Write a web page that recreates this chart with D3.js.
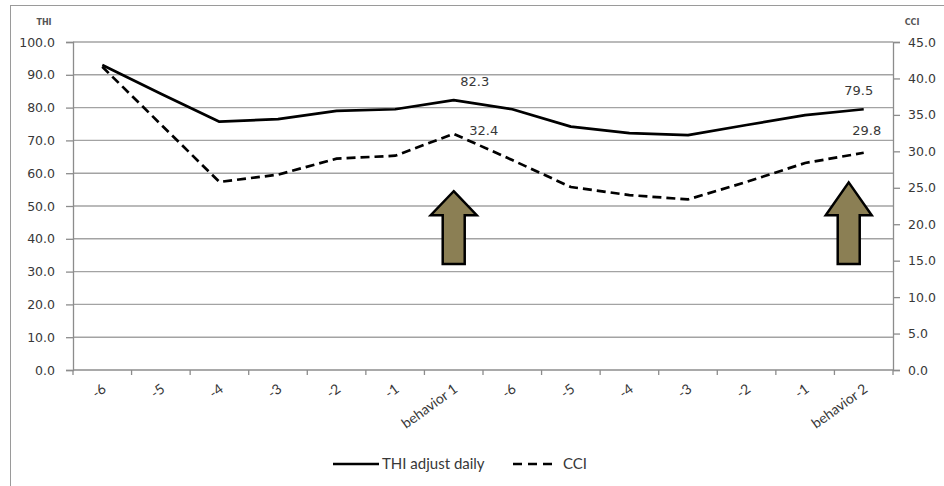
<!DOCTYPE html>
<html>
<head>
<meta charset="utf-8">
<script src="https://cdn.jsdelivr.net/npm/d3@7"></script>
<style>
  html, body { margin: 0; padding: 0; background: #fff; }
  svg { display: block; }
</style>
</head>
<body>
<svg id="chart" width="944" height="486"></svg>
<script>
// Day labels around two behaviour events
const categories = ["-6", "-5", "-4", "-3", "-2", "-1", "behavior 1",
                    "-6", "-5", "-4", "-3", "-2", "-1", "behavior 2"];

// Temperature-humidity index, adjusted daily (left axis)
const thiValues = [93.0, 84.2, 75.7, 76.5, 79.0, 79.5, 82.3,
                   79.5, 74.2, 72.2, 71.6, 74.7, 77.7, 79.5];

// Comprehensive climate index (right axis)
const cciValues = [41.6, 33.7, 25.8, 26.8, 29.0, 29.4, 32.4,
                   28.8, 25.1, 24.0, 23.4, 25.8, 28.4, 29.8];

const thiTicks = [0, 10, 20, 30, 40, 50, 60, 70, 80, 90, 100];
const cciTicks = [0, 5, 10, 15, 20, 25, 30, 35, 40, 45];

// Points that carry a value label, with label offsets from the point
const thiLabels = [{ idx: 6, dx: 21, dy: -14 }, { idx: 13, dx: -5, dy: -14 }];
const cciLabels = [{ idx: 6, dx: 30, dy: 1 }, { idx: 13, dx: 3, dy: -18 }];

// Up arrows marking the behaviour days (tip/neck/base in THI units)
const arrows = [
  { idx: 6, shift: 0, tip: 54.5, neck: 47.2, base: 32.3 },
  { idx: 13, shift: -15, tip: 57.2, neck: 47.2, base: 32.3 }
];

const svg = d3.select("#chart");
const m = { left: 73, right: 893, top: 42, bottom: 370 };

const x = d3.scaleBand()
  .domain(d3.range(categories.length))
  .range([m.left, m.right])
  .paddingInner(0).paddingOuter(0);
const cx = i => x(i) + x.bandwidth() / 2;

const yL = d3.scaleLinear().domain([0, 100]).range([m.bottom, m.top]);
const yR = d3.scaleLinear().domain([0, 45]).range([m.bottom, m.top]);

const tickFont = "DejaVu Sans, sans-serif";
const textColor = "#383838";

// chart frame
svg.append("rect")
  .attr("x", 10.5).attr("y", 5.5)
  .attr("width", 960).attr("height", 500)
  .attr("fill", "none").attr("stroke", "#9a9a9a").attr("stroke-width", 1);

// horizontal gridlines
svg.append("g").selectAll("line").data(thiTicks.filter(d => d > 0)).join("line")
  .attr("x1", m.left).attr("x2", m.right)
  .attr("y1", d => yL(d)).attr("y2", d => yL(d))
  .attr("stroke", "#a3a3a3").attr("stroke-width", 1.4);

// left axis
const leftAxis = svg.append("g")
  .attr("transform", `translate(${m.left},0)`)
  .call(d3.axisLeft(yL).tickValues(thiTicks).tickFormat(d3.format(".1f")).tickSize(7).tickPadding(11));
// right axis
const rightAxis = svg.append("g")
  .attr("transform", `translate(${m.right},0)`)
  .call(d3.axisRight(yR).tickValues(cciTicks).tickFormat(d3.format(".1f")).tickSize(7).tickPadding(8));

[leftAxis, rightAxis].forEach(g => {
  g.select(".domain").attr("stroke", "#8c8c8c").attr("stroke-width", 1.3);
  g.selectAll(".tick line").attr("stroke", "#8c8c8c").attr("stroke-width", 1.3);
  g.selectAll(".tick text")
    .attr("font-family", tickFont).attr("font-size", 12.5)
    .attr("fill", textColor);
});

// bottom axis with ticks between categories
const bottom = svg.append("g");
bottom.append("line")
  .attr("x1", m.left).attr("x2", m.right)
  .attr("y1", m.bottom).attr("y2", m.bottom)
  .attr("stroke", "#8c8c8c").attr("stroke-width", 1.3);
bottom.selectAll("line.tk").data(d3.range(categories.length + 1)).join("line")
  .attr("class", "tk")
  .attr("x1", i => m.left + i * x.bandwidth()).attr("x2", i => m.left + i * x.bandwidth())
  .attr("y1", m.bottom).attr("y2", m.bottom + 5)
  .attr("stroke", "#8c8c8c").attr("stroke-width", 1.3);
bottom.selectAll("text").data(categories).join("text")
  .attr("transform", (d, i) => `translate(${cx(i) + 2},${m.bottom + 17}) rotate(-36)`)
  .attr("text-anchor", "end")
  .attr("dy", "0.35em")
  .attr("font-family", "Lato, sans-serif").attr("font-size", 14)
  .attr("fill", textColor)
  .text(d => d);

// axis titles
svg.append("text").attr("x", 44).attr("y", 25).attr("text-anchor", "middle")
  .attr("font-family", tickFont).attr("font-size", 8).attr("font-weight", "bold")
  .attr("fill", "#555").text("THI");
svg.append("text").attr("x", 912).attr("y", 25).attr("text-anchor", "middle")
  .attr("font-family", tickFont).attr("font-size", 8).attr("font-weight", "bold")
  .attr("fill", "#555").text("CCI");

// series lines
const thiLine = d3.line().x((d, i) => cx(i)).y(d => yL(d));
const cciLine = d3.line().x((d, i) => cx(i)).y(d => yR(d));

svg.append("path").datum(thiValues)
  .attr("d", thiLine)
  .attr("fill", "none").attr("stroke", "#000").attr("stroke-width", 2.7)
  .attr("stroke-linejoin", "round");
svg.append("path").datum(cciValues)
  .attr("d", cciLine)
  .attr("fill", "none").attr("stroke", "#000").attr("stroke-width", 2.7)
  .attr("stroke-dasharray", "9,5");

// value labels
const fmt = d3.format(".1f");
svg.append("g").selectAll("text").data(thiLabels).join("text")
  .attr("x", d => cx(d.idx) + d.dx)
  .attr("y", d => yL(thiValues[d.idx]) + d.dy)
  .attr("text-anchor", "middle")
  .attr("font-family", tickFont).attr("font-size", 13).attr("fill", textColor)
  .text(d => fmt(thiValues[d.idx]));
svg.append("g").selectAll("text").data(cciLabels).join("text")
  .attr("x", d => cx(d.idx) + d.dx)
  .attr("y", d => yR(cciValues[d.idx]) + d.dy)
  .attr("text-anchor", "middle")
  .attr("font-family", tickFont).attr("font-size", 13).attr("fill", textColor)
  .text(d => fmt(cciValues[d.idx]));

// arrows
const headHalf = 23, shaftHalf = 11;
svg.append("g").selectAll("path").data(arrows).join("path")
  .attr("d", a => {
    const c = cx(a.idx) + a.shift;
    const t = yL(a.tip), n = yL(a.neck), b = yL(a.base);
    return `M${c},${t} L${c + headHalf},${n} L${c + shaftHalf},${n} L${c + shaftHalf},${b}
            L${c - shaftHalf},${b} L${c - shaftHalf},${n} L${c - headHalf},${n} Z`;
  })
  .attr("fill", "#8b7f54").attr("stroke", "#000").attr("stroke-width", 2.5)
  .attr("stroke-linejoin", "miter");

// legend
const lg = svg.append("g").attr("transform", "translate(0,464)");
lg.append("line").attr("x1", 333).attr("x2", 379).attr("y1", 0).attr("y2", 0)
  .attr("stroke", "#000").attr("stroke-width", 2.7);
lg.append("text").attr("x", 382).attr("y", 0).attr("dy", "0.35em")
  .attr("font-family", "Lato, sans-serif").attr("font-size", 15).attr("fill", textColor)
  .text("THI adjust daily");
lg.append("line").attr("x1", 513).attr("x2", 554).attr("y1", 0).attr("y2", 0)
  .attr("stroke", "#000").attr("stroke-width", 2.7).attr("stroke-dasharray", "9,6");
lg.append("text").attr("x", 563).attr("y", 0).attr("dy", "0.35em")
  .attr("font-family", "Lato, sans-serif").attr("font-size", 15).attr("fill", textColor)
  .text("CCI");
</script>
</body>
</html>
